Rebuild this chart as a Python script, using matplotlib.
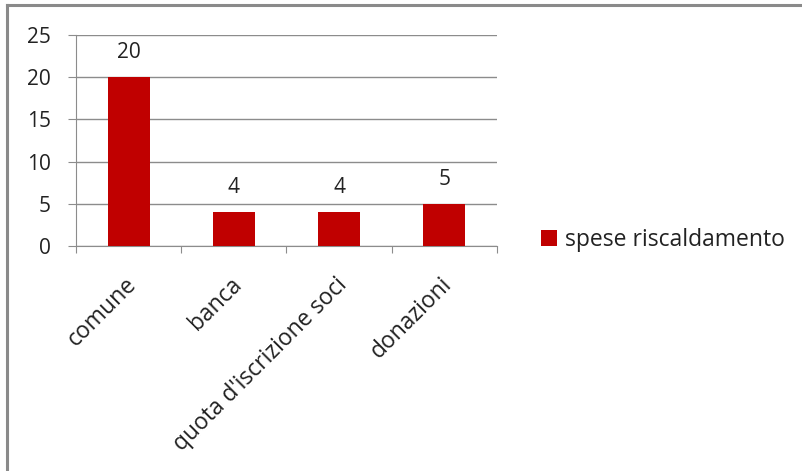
import matplotlib.pyplot as plt
import matplotlib.transforms as mtransforms
from matplotlib.lines import Line2D

categories = ["comune", "banca", "quota d'iscrizione soci", "donazioni"]
values = [20, 4, 4, 5]
series_name = "spese riscaldamento"
y_ticks = [0, 5, 10, 15, 20, 25]

plt.rcParams['font.family'] = ['Open Sans', 'DejaVu Sans']
FS = 15
FS_TEXT = 16.5
TXT = '#222222'
GRID = '#8c8c8c'

fig = plt.figure(figsize=(8.03, 4.71), dpi=100)
ax = fig.add_axes([76 / 803, 1 - 246 / 471, 421 / 803, 211 / 471])

x = list(range(len(categories)))
bars = ax.bar(x, values, width=0.4, color='#C00000', label=series_name, zorder=3)

# value labels above each bar
for xi, v in zip(x, values):
    ax.annotate(str(v), (xi, v), xytext=(0, 19), textcoords='offset pixels',
                ha='center', va='baseline', fontsize=FS, color=TXT)

ax.set_xlim(-0.5, len(categories) - 0.5)
ax.set_ylim(0, 25)
ax.set_yticks(y_ticks)
ax.grid(axis='y', color=GRID, linewidth=1, zorder=0)

for side in ['top', 'right']:
    ax.spines[side].set_visible(False)
for side in ['left', 'bottom']:
    ax.spines[side].set_color(GRID)

ax.tick_params(axis='y', length=6, color=GRID, labelsize=FS,
               labelcolor=TXT, pad=12)

# category boundaries get the tick marks, names sit at the centres
ax.set_xticks([i - 0.5 for i in range(len(categories) + 1)])
ax.set_xticklabels([])
ax.tick_params(axis='x', which='major', length=5, color=GRID)
ax.set_xticks(x, minor=True)
ax.set_xticklabels(categories, minor=True, rotation=45, ha='right', va='top',
                   rotation_mode='anchor', fontsize=FS_TEXT, color=TXT)
ax.tick_params(axis='x', which='minor', length=0, pad=19)
shift = mtransforms.ScaledTranslation(-4 / 100, 0, fig.dpi_scale_trans)
for lbl in ax.get_xticklabels(minor=True):
    lbl.set_transform(lbl.get_transform() + shift)

fig.legend(handles=[bars], labels=[series_name], loc='center left',
           bbox_to_anchor=(520 / 803, 1 - 240 / 471), frameon=False,
           fontsize=FS_TEXT, handlelength=0.7, handleheight=0.7,
           handletextpad=0.35, labelcolor=TXT)

# outer frame of the chart area
fig.add_artist(Line2D([7 / 803, 1.0], [1 - 5 / 471, 1 - 5 / 471],
                      transform=fig.transFigure, color='#8a8a8a', linewidth=2.2))
fig.add_artist(Line2D([7 / 803, 7 / 803], [0, 1 - 5 / 471],
                      transform=fig.transFigure, color='#8a8a8a', linewidth=2.2))

fig.savefig('out.png', dpi=100)
